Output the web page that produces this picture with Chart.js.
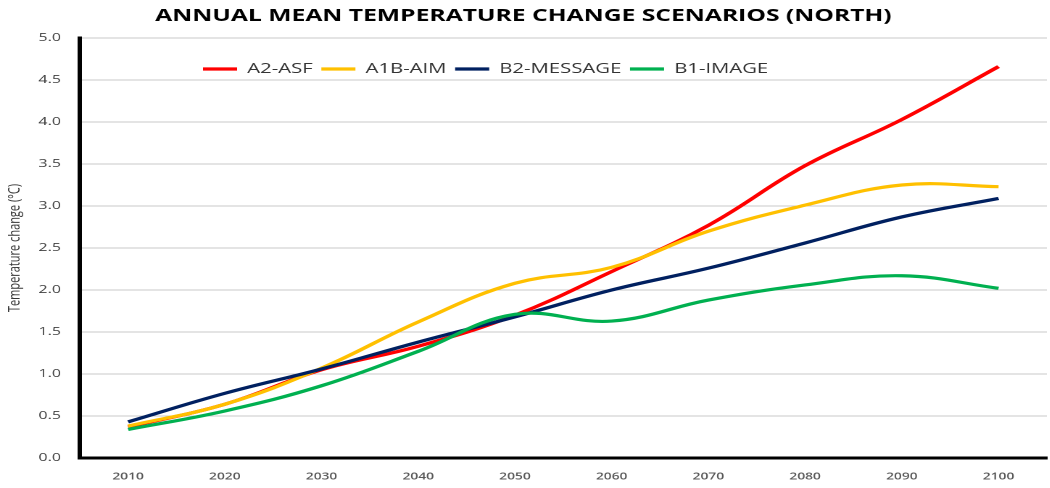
<!DOCTYPE html>
<html>
<head>
<meta charset="utf-8">
<title>Annual mean temperature change scenarios (North)</title>
<script src="https://cdn.jsdelivr.net/npm/chart.js@4.4.0/dist/chart.umd.min.js"></script>
<style>
  html, body { margin: 0; padding: 0; background: #fff; overflow: hidden; }
  /* the original chart is stretched sideways, so draw narrow and widen it */
  #wrap { width: 724px; height: 488px; transform: scale(1.45, 1); transform-origin: 0 0; }
</style>
</head>
<body>
<div id="wrap"><canvas id="tempChart" width="724" height="488"></canvas></div>
<script>
const years = ['2010', '2020', '2030', '2040', '2050', '2060', '2070', '2080', '2090', '2100'];
const yTicks = [0, 0.5, 1, 1.5, 2, 2.5, 3, 3.5, 4, 4.5, 5];

const a2Asf     = [0.37, 0.64, 1.05, 1.33, 1.70, 2.22, 2.77, 3.48, 4.03, 4.66];
const a1bAim    = [0.38, 0.64, 1.07, 1.62, 2.08, 2.27, 2.70, 3.01, 3.25, 3.23];
const b2Message = [0.43, 0.77, 1.06, 1.38, 1.68, 2.00, 2.26, 2.56, 2.87, 3.09];
const b1Image   = [0.34, 0.56, 0.86, 1.27, 1.71, 1.63, 1.88, 2.06, 2.17, 2.02];

const font = 'Open Sans';

// legend sits inside the plot in one row, up and to the left
const legendSpot = {
  id: 'legendSpot',
  beforeUpdate(chart) {
    if (chart.legend) chart.legend.isHorizontal = () => true;
  },
  afterLayout(chart) {
    chart.legend.left = 134;
    chart.legend.top = 56;
  }
};

function line(label, data, color, order) {
  return {
    label: label,
    data: data,
    borderColor: color,
    backgroundColor: color,
    borderWidth: 3.2,
    pointRadius: 0,
    tension: 0.4,
    fill: false,
    order: order
  };
}

const chart = new Chart(document.getElementById('tempChart'), {
  type: 'line',
  data: {
    labels: years,
    datasets: [
      line('A2-ASF', a2Asf, '#ff0000', 3),
      line('A1B-AIM', a1bAim, '#ffc000', 2),
      line('B2-MESSAGE', b2Message, '#002060', 1),
      line('B1-IMAGE', b1Image, '#00b050', 0)
    ]
  },
  options: {
    responsive: false,
    animation: false,
    devicePixelRatio: 2,
    layout: { padding: { left: 0, right: 2, top: 0, bottom: 0 } },
    plugins: {
      title: {
        display: true,
        text: 'ANNUAL MEAN TEMPERATURE CHANGE SCENARIOS (NORTH)',
        color: '#000',
        font: { family: font, size: 17, weight: 'bold' },
        padding: { top: 6, bottom: 11.6 }
      },
      legend: {
        position: 'chartArea',
        align: 'start',
        labels: {
          usePointStyle: true,
          pointStyle: 'line',
          pointStyleWidth: 23.5,
          padding: 6,
          color: '#333',
          font: { family: font, size: 14 },
          sort: (a, b) => a.datasetIndex - b.datasetIndex
        }
      },
      tooltip: { enabled: false }
    },
    scales: {
      x: {
        offset: true,
        afterFit(scale) { scale.height = 30; },
        grid: { drawOnChartArea: false, drawTicks: false },
        border: { display: true, color: '#000', width: 3 },
        ticks: {
          padding: 13,
          color: '#595959',
          font: { family: font, size: 9.5, weight: '600' },
          maxRotation: 0
        }
      },
      y: {
        min: 0,
        max: 5,
        afterFit(scale) { scale.width = 55; },
        afterBuildTicks(scale) { scale.ticks = yTicks.map(v => ({ value: v })); },
        grid: { color: '#c8c8c8', lineWidth: 1, drawTicks: false },
        border: { display: true, color: '#000', width: 3 },
        ticks: {
          padding: 13,
          color: '#404040',
          font: { family: font, size: 11 },
          callback: v => Number(v).toFixed(1)
        },
        title: {
          display: true,
          text: 'Temperature change (°C)',
          color: '#333',
          font: { family: font, size: 11 },
          padding: { top: 4, bottom: 4 }
        }
      }
    }
  },
  plugins: [legendSpot]
});
</script>
</body>
</html>
